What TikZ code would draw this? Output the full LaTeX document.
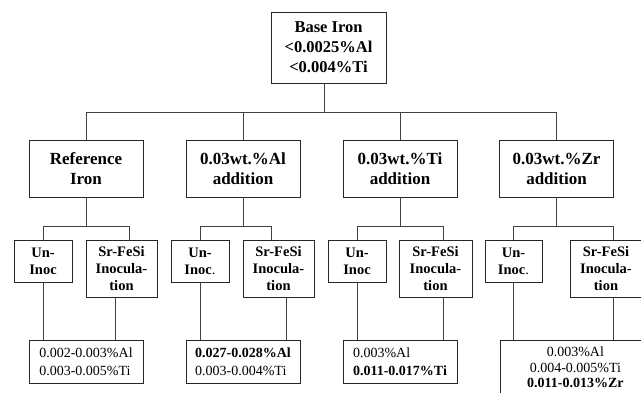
\documentclass[tikz,border=0pt]{standalone}
\usepackage{fontspec}
\setmainfont{Liberation Serif}
\begin{document}
\begin{tikzpicture}[x=1pt,y=-1pt,
  box/.style={draw=black!85, line width=0.8pt, inner sep=0pt, align=center},
  topbox/.style={box, minimum width=115pt, minimum height=71pt, font=\fontsize{16.5}{20}\selectfont\bfseries},
  midbox/.style={box, minimum width=114pt, minimum height=57pt, font=\fontsize{17}{20}\selectfont\bfseries},
  unbox/.style={box, minimum width=58pt, minimum height=42pt, font=\fontsize{14.5}{16.7}\selectfont\bfseries},
  srbox/.style={box, minimum width=71pt, minimum height=57pt, font=\fontsize{14.5}{16.7}\selectfont\bfseries},
  resbox/.style={box, minimum width=114pt, minimum height=43pt, align=left, font=\fontsize{14}{18}\selectfont},
  link/.style={draw=black!75, line width=0.8pt}
]
\useasboundingbox (0,0) rectangle (641,392);
\clip (0,0) rectangle (641,392);

% top
\node[topbox] (base) at (328.5,47.5) {Base Iron\\<0.0025\%Al\\<0.004\%Ti};

% level 2
\node[midbox] (ref) at (86,168.5) {Reference\\Iron};
\node[midbox] (al) at (243,168.5) {0.03wt.\%Al\\addition};
\node[midbox] (ti) at (400,168.5) {0.03wt.\%Ti\\addition};
\node[midbox] (zr) at (556.5,168.5) {0.03wt.\%Zr\\addition};

% level 3
\node[unbox] (refun) at (43,261) {Un-\\Inoc};
\node[srbox] (refsr) at (121.5,268.5) {Sr-FeSi\\Inocula-\\tion};
\node[unbox] (alun) at (200,261) {Un-\\Inoc{\mdseries .}};
\node[srbox] (alsr) at (278.5,268.5) {Sr-FeSi\\Inocula-\\tion};
\node[unbox] (tiun) at (357,261) {Un-\\Inoc};
\node[srbox, minimum width=73pt] (tisr) at (435.5,268.5) {Sr-FeSi\\Inocula-\\tion};
\node[unbox, minimum width=57pt] (zrun) at (513.5,261) {Un-\\Inoc{\mdseries .}};
\node[srbox, minimum width=72pt] (zrsr) at (606,268.5) {Sr-FeSi\\Inocula-\\tion};

% results
\node[resbox] (refres) at (86,361.5) {0.002-0.003\%Al\\0.003-0.005\%Ti};
\node[resbox] (alres) at (243,361.5) {\textbf{0.027-0.028\%Al}\\0.003-0.004\%Ti};
\node[resbox] (tires) at (400,361.5) {0.003\%Al\\\textbf{0.011-0.017\%Ti}};
\node[box, anchor=north west, minimum width=150pt, minimum height=54pt,
      font=\fontsize{14}{15.5}\selectfont] (zrres) at (500,340)
      {0.003\%Al\\0.004-0.005\%Ti\\\textbf{0.011-0.013\%Zr}};

% connectors
\coordinate (h1) at (0,112);
\coordinate (h2) at (0,226);

\draw[link] ([xshift=-4.5pt]base.south) -- ([xshift=-4.5pt]base.south |- h1);
\draw[link] (ref.north |- h1) -- (zr.north |- h1);
\foreach \n in {ref,al,ti,zr}{
  \draw[link] (\n.north |- h1) -- (\n.north);
  \draw[link] (\n.south) -- (\n.south |- h2);
}

% reference group
\draw[link] (refun.north) -- (refun.north |- h2) -- ([xshift=7.5pt]refsr.north |- h2) -- ([xshift=7.5pt]refsr.north);
\draw[link] (refun.south) -- (refun.south |- refres.north);
\draw[link] ([xshift=-6.5pt]refsr.south) -- ([xshift=-6.5pt]refsr.south |- refres.north);

% Al group
\draw[link] (alun.north) -- (alun.north |- h2) -- ([xshift=-7.5pt]alsr.north |- h2) -- ([xshift=-7.5pt]alsr.north);
\draw[link] (alun.south) -- (alun.south |- alres.north);
\draw[link] ([xshift=7.5pt]alsr.south) -- ([xshift=7.5pt]alsr.south |- alres.north);

% Ti group
\draw[link] (tiun.north) -- (tiun.north |- h2) -- ([xshift=7.5pt]tisr.north |- h2) -- ([xshift=7.5pt]tisr.north);
\draw[link] (tiun.south) -- (tiun.south |- tires.north);
\draw[link] ([xshift=7.5pt]tisr.south) -- ([xshift=7.5pt]tisr.south |- tires.north);

% Zr group
\draw[link] ([xshift=-0.5pt]zrun.north) -- ([xshift=-0.5pt]zrun.north |- h2) -- ([xshift=7pt]zrsr.north |- h2) -- ([xshift=7pt]zrsr.north);
\draw[link] ([xshift=-0.5pt]zrun.south) -- ([xshift=-0.5pt]zrun.south |- zrres.north);
\draw[link] ([xshift=7pt]zrsr.south) -- ([xshift=7pt]zrsr.south |- zrres.north);
\end{tikzpicture}
\end{document}
